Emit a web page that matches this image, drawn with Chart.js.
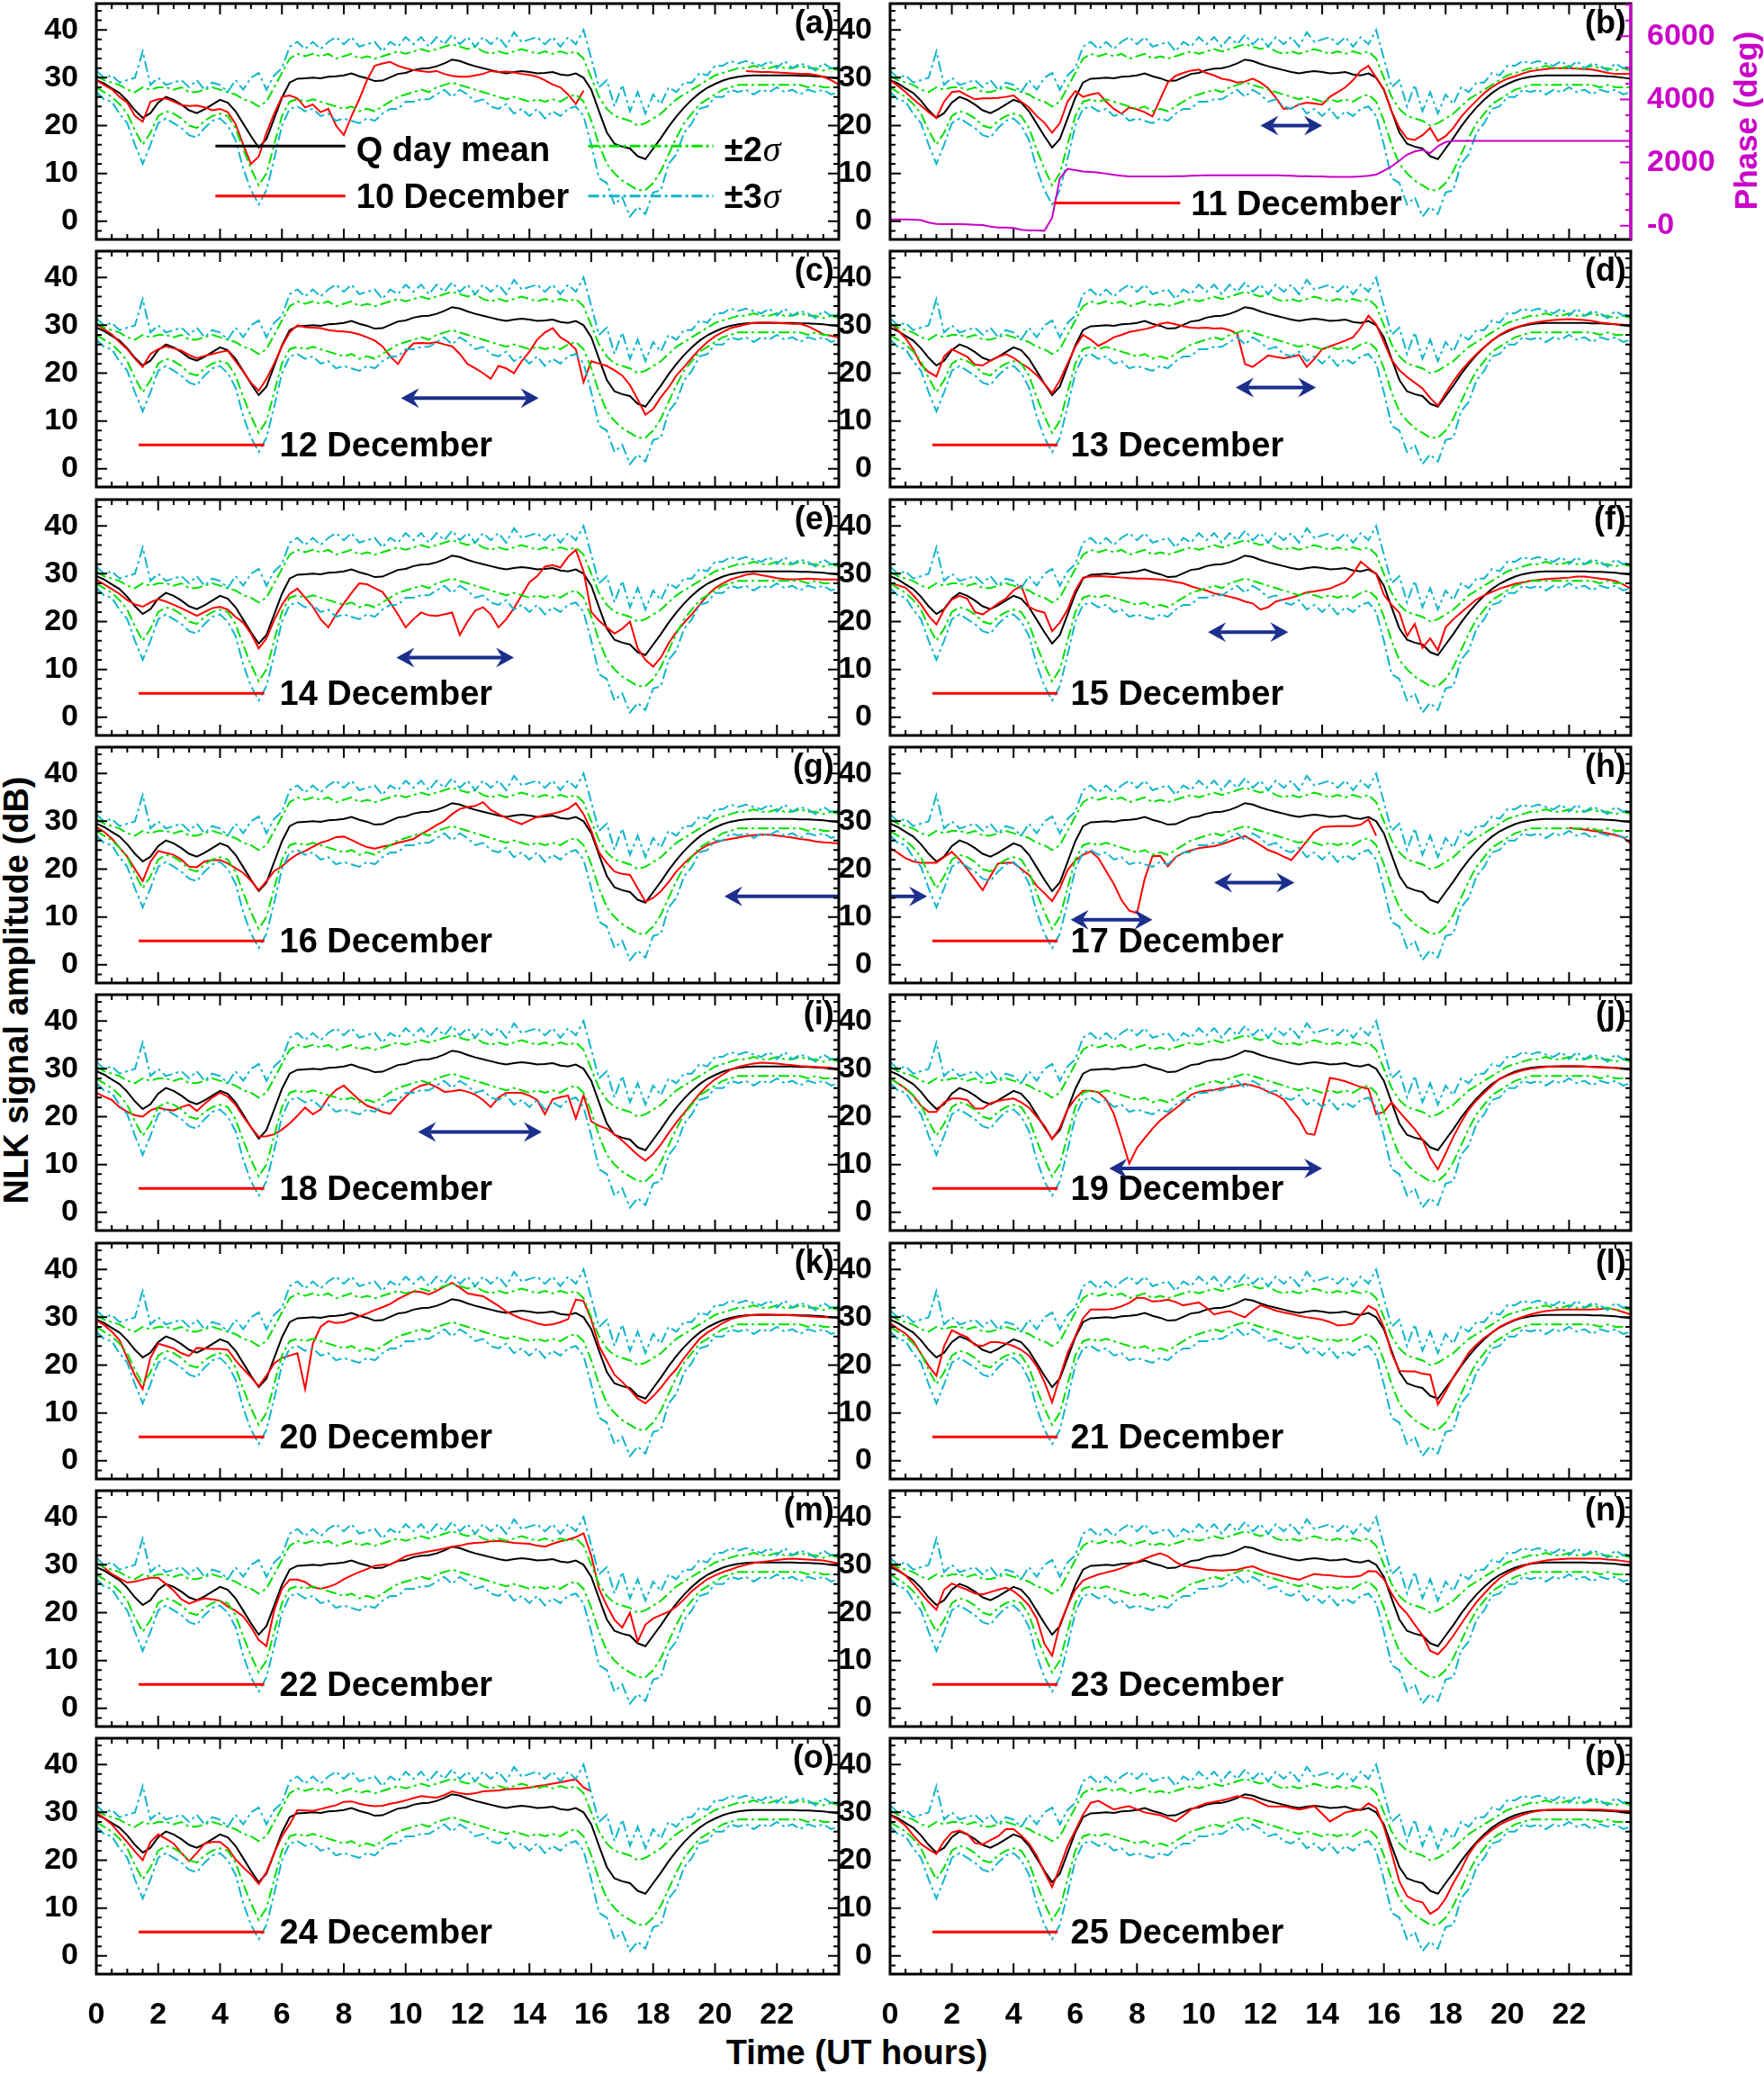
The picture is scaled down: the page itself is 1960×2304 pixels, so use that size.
<!DOCTYPE html>
<html>
<head>
<meta charset="utf-8">
<script src="https://cdn.jsdelivr.net/npm/chart.js@4.4.1/dist/chart.umd.min.js"></script>
<style>
  body { margin: 0; background: #fff; width: 1960px; height: 2304px; position: relative; overflow: hidden; }
  canvas { position: absolute; }
  .t { position: absolute; font: bold 38px "Liberation Sans", Arial, sans-serif; white-space: nowrap; color: #000; }
</style>
</head>
<body>
<div class="t" style="left:18px;top:1100px;transform:translate(-50%,-50%) rotate(-90deg)">NLK signal amplitude (dB)</div>
<div class="t" style="left:952px;top:2280px;transform:translate(-50%,-50%)">Time (UT hours)</div>
<div class="t" style="left:1940px;top:134px;color:#c800c8;font-size:35px;transform:translate(-50%,-50%) rotate(-90deg)">Phase (deg)</div>
<script>
// time grid, 15 min steps
var hours = [];
for (var k = 0; k <= 96; k++) hours.push(k / 4);

var xTicks = [0, 2, 4, 6, 8, 10, 12, 14, 16, 18, 20, 22];
var yTicks = [0, 10, 20, 30, 40];
var phaseTicks = [0, 2000, 4000, 6000];

var dayLabels = ["10 December", "11 December", "12 December", "13 December", "14 December", "15 December",
  "16 December", "17 December", "18 December", "19 December", "20 December", "21 December",
  "22 December", "23 December", "24 December", "25 December"];
var panelTags = ["(a)", "(b)", "(c)", "(d)", "(e)", "(f)", "(g)", "(h)", "(i)", "(j)", "(k)", "(l)", "(m)", "(n)", "(o)", "(p)"];

// quiet day mean and sigma bands (dB)
var qMean = [29.5, 28.8, 27.8, 26.8, 25.2, 23.2, 21.6, 22.6, 24.8, 26.0, 25.4, 24.4,
  23.2, 22.6, 23.4, 24.4, 25.4, 24.8, 23.0, 20.4, 17.8, 15.4, 17.2, 21.5,
  25.8, 29.0, 29.8, 29.9, 30.0, 29.9, 30.2, 30.3, 30.5, 30.9, 30.3, 29.9,
  29.3, 29.4, 30.1, 30.8, 31.0, 31.6, 31.9, 32.0, 32.4, 33.0, 33.8, 33.5,
  32.9, 32.4, 32.0, 31.6, 31.2, 30.9, 31.2, 31.4, 31.2, 30.9, 31.0, 31.2,
  30.7, 30.5, 30.9, 30.0, 27.5, 23.0, 18.6, 16.2, 15.6, 15.2, 13.6, 13.0,
  15.2, 17.4, 19.8, 21.9, 23.8, 25.4, 26.8, 27.9, 28.7, 29.4, 29.9, 30.2,
  30.4, 30.5, 30.5, 30.5, 30.5, 30.5, 30.5, 30.4, 30.4, 30.3, 30.2, 30.0, 29.8];
var up3 = [31.5, 30.0, 30.5, 29.0, 29.5, 30.0, 35.5, 28.5, 30.0, 28.5, 29.0, 29.5,
  28.0, 29.5, 27.5, 29.0, 28.5, 27.0, 29.5, 27.5, 30.0, 31.0, 27.5, 30.5,
  32.0, 36.5, 37.5, 36.0, 37.5, 36.0, 37.5, 38.5, 37.0, 38.5, 36.5, 37.0,
  37.5, 35.5, 37.5, 36.5, 38.5, 37.0, 38.5, 36.5, 38.5, 37.0, 39.0, 37.0,
  38.5, 36.5, 38.5, 37.0, 38.5, 36.5, 39.5, 37.5, 38.0, 38.5, 37.0, 38.5,
  36.5, 38.5, 37.0, 40.0, 34.0, 28.0, 29.5, 24.0, 28.5, 23.0, 27.0, 22.5,
  26.5, 24.5, 28.0, 27.0, 29.0, 29.0, 31.0, 30.5, 32.5, 32.5, 33.5, 33.0,
  33.5, 33.0, 32.5, 33.5, 32.0, 33.5, 32.0, 33.0, 32.5, 31.5, 33.0, 32.0, 32.5];
var up2 = [30.5, 29.5, 29.0, 28.5, 27.5, 27.0, 28.0, 27.5, 28.0, 28.0, 27.5, 28.0,
  27.0, 27.0, 27.5, 28.0, 27.5, 27.0, 26.5, 25.5, 25.0, 24.0, 25.0, 28.0,
  31.0, 34.0, 35.0, 34.5, 35.0, 34.5, 35.0, 34.0, 34.5, 35.0, 34.0, 34.5,
  34.0, 34.5, 35.0, 35.5, 35.0, 35.5, 36.0, 35.5, 36.0, 36.5, 37.0, 36.5,
  36.0, 36.5, 35.5, 35.0, 35.5, 35.0, 35.5, 36.0, 35.5, 35.0, 35.5, 35.0,
  35.5, 35.0, 35.5, 34.0, 30.0, 26.0, 23.5, 22.0, 21.5, 21.0, 20.0, 20.5,
  21.5, 22.5, 24.0, 25.5, 26.5, 27.5, 28.5, 29.5, 30.5, 31.0, 31.5, 32.0,
  32.0, 32.5, 32.0, 32.0, 32.5, 32.0, 32.0, 32.5, 32.0, 32.0, 31.5, 32.0, 31.5];
var lo2 = [28.0, 27.0, 26.0, 24.5, 22.5, 19.0, 16.0, 18.5, 22.0, 23.0, 22.5, 21.5,
  20.0, 19.5, 21.0, 22.0, 22.5, 22.0, 19.5, 15.0, 11.0, 7.5, 10.0, 16.0,
  22.0, 25.0, 25.5, 25.0, 25.5, 25.0, 24.5, 24.0, 23.5, 24.0, 23.0, 23.5,
  23.0, 24.0, 25.0, 26.0, 26.5, 27.0, 27.5, 27.0, 28.0, 28.5, 29.0, 28.5,
  28.0, 27.5, 27.0, 26.5, 26.0, 25.5, 26.0, 25.5, 25.0, 25.5, 25.0, 25.5,
  25.0, 26.0, 26.5, 25.0, 21.0, 16.0, 12.0, 10.0, 8.5, 7.5, 6.5, 6.5,
  8.0, 10.5, 14.0, 17.5, 20.5, 22.5, 24.5, 25.5, 26.5, 27.5, 28.0, 28.5,
  28.5, 28.5, 28.5, 28.5, 28.5, 28.5, 28.5, 28.5, 28.0, 28.5, 28.0, 28.0, 28.0];
var lo3 = [27.0, 25.5, 25.0, 22.5, 20.5, 16.0, 12.0, 16.0, 20.5, 21.5, 20.5, 19.5,
  18.0, 17.5, 19.5, 21.0, 21.5, 20.0, 17.0, 11.0, 6.5, 3.5, 6.5, 13.0,
  20.0, 23.5, 24.0, 23.0, 23.5, 22.0, 22.5, 21.0, 21.5, 21.0, 20.5, 21.5,
  21.0, 22.5, 23.5, 23.5, 25.0, 25.0, 25.5, 25.5, 26.5, 27.5, 26.0, 27.5,
  26.5, 25.0, 25.5, 24.0, 23.5, 24.5, 22.5, 23.5, 22.0, 23.5, 21.5, 23.0,
  22.0, 23.5, 24.0, 22.0, 16.0, 9.0, 8.0, 3.5, 5.0, 1.0, 3.0, 1.5,
  6.0, 6.5, 12.0, 14.0, 18.5, 20.5, 23.5, 24.0, 26.0, 26.0, 27.5, 27.0,
  27.5, 26.5, 27.5, 27.0, 28.0, 27.0, 27.5, 26.5, 27.5, 27.0, 27.5, 26.5, 27.0];

// daily amplitude curves (dB), null = no data
var dec10 = [29.5, 28.5, 27.6, 26.0, 24.8, 22.0, 20.8, 25.0, 25.5, 25.7, 25.0, 24.3,
  24.1, 24.2, 23.8, 23.2, 23.5, 22.8, 20.4, 16.0, 12.0, 13.5, 18.5, 22.5,
  26.0, 26.3, 25.7, 23.8, 24.4, 22.8, 23.5, 20.0, 18.0, 22.0, 25.5, 29.5,
  32.5, 33.0, 33.3, 32.5, 32.0, 31.6, 31.4, 31.2, 31.4, 30.8, 30.4, 30.2,
  30.2, 30.5, 30.8, 31.4, 31.2, 31.3, 31.1, 30.8, 30.6, 30.2, 29.5, 28.6,
  28.0, 26.5, 24.5, 27.3, null, null, null, null, null, null, null, null,
  null, null, null, null, null, null, null, null, null, null, null, null,
  31.4, 31.3, 31.2, 31.2, 31.1, 31.0, 30.9, 30.8, 30.8, 30.6, 30.2, 29.5, 28.6];
var dec11 = [29.5, 28.3, 27.0, 25.5, 24.2, 22.8, 21.6, 25.0, 27.0, 27.2, 26.3, 25.5,
  25.7, 25.7, 25.8, 26.0, 26.3, 25.0, 23.8, 22.0, 20.6, 18.5, 20.5, 25.0,
  27.2, 26.0, 26.5, 26.8, 25.0, 23.5, 22.5, 23.8, 23.4, 22.8, 21.9, 25.5,
  29.0, 30.4, 31.0, 31.5, 31.7, 31.0, 30.5, 29.8, 29.5, 29.0, 29.2, 29.8,
  29.0, 27.8, 25.8, 23.5, 23.6, 24.4, 24.8, 24.6, 24.4, 26.0, 27.0, 28.0,
  29.5, 31.5, 32.5, 30.0, 27.6, 23.0, 19.5, 17.3, 17.0, 18.0, 19.5, 16.8,
  17.8, 19.5, 21.8, 23.6, 25.2, 26.8, 28.0, 29.0, 29.8, 30.3, 30.9, 31.4,
  31.6, 31.8, 32.0, 32.0, 32.0, 31.9, 31.8, 31.7, 31.4, 31.0, 30.8, 30.8, 30.8];
var dec12 = [30.3, 29.2, 28.1, 26.5, 25.0, 23.0, 21.3, 24.0, 25.0, 25.6, 25.2, 24.7,
  23.8, 23.1, 23.6, 24.0, 24.4, 24.7, 22.5, 20.3, 18.0, 16.3, 18.8, 22.0,
  25.6, 28.5, 30.0, 29.6, 29.5, 29.4, 29.0, 28.8, 28.7, 28.5, 28.1, 27.5,
  26.8, 25.6, 23.5, 21.9, 24.5, 26.2, 26.3, 26.2, 26.5, 26.0, 25.6, 24.0,
  21.9, 21.0, 20.0, 18.8, 21.5, 21.0, 20.0, 22.5, 24.5, 27.0, 28.5, 29.4,
  27.5, 26.5, 25.0, 18.1, 22.5, 22.0, 21.5, 20.6, 19.5, 17.5, 14.5, 11.3,
  12.5, 15.0, 17.0, 19.5, 21.3, 23.2, 25.0, 26.5, 27.7, 28.6, 29.4, 29.8,
  30.2, 30.5, 30.6, 30.6, 30.5, 30.4, 30.3, 30.3, 29.8, 29.0, 28.1, 27.8, 27.5];
var dec13 = [30.6, 29.0, 27.3, 25.0, 21.8, 20.2, 19.3, 23.5, 25.0, 24.2, 23.4, 21.8,
  21.6, 22.6, 23.4, 24.0, 23.2, 22.0, 21.0, 19.6, 17.8, 15.8, 18.5, 22.0,
  25.5, 28.0, 27.0, 25.7, 26.5, 27.5, 28.0, 28.6, 28.9, 29.2, 29.6, 30.3,
  30.6, 30.2, 29.8, 29.5, 29.4, 29.5, 29.3, 29.4, 29.0, 28.2, 21.9, 21.3,
  22.5, 23.7, 23.4, 23.1, 23.4, 23.8, 21.3, 23.0, 25.0, 25.6, 26.2, 26.8,
  27.5, 29.5, 32.0, 30.2, 26.5, 22.8, 20.6, 19.2, 18.0, 16.8, 14.8, 13.2,
  15.8, 18.3, 20.5, 22.3, 24.0, 25.4, 26.8, 28.0, 28.9, 29.5, 30.0, 30.4,
  30.7, 30.9, 31.1, 31.2, 31.3, 31.2, 31.1, 30.9, 30.6, 30.4, 30.2, 30.1, 30.0];
var dec14 = [28.8, 27.8, 26.8, 25.8, 24.5, 23.6, 23.1, 24.0, 24.7, 24.2, 23.5, 22.8,
  22.0, 21.2, 22.0, 22.8, 23.1, 22.5, 21.0, 19.8, 17.5, 14.4, 16.5, 20.3,
  23.5, 25.8, 26.9, 25.0, 23.1, 20.5, 18.8, 21.5, 23.8, 26.0, 28.0, 27.8,
  27.0, 26.2, 24.0, 21.5, 18.8, 20.5, 21.9, 21.3, 21.2, 21.5, 21.9, 17.2,
  20.0, 22.3, 23.0, 21.5, 18.8, 20.5, 22.8, 25.5, 28.2, 29.5, 31.5, 31.8,
  31.3, 33.5, 35.0, 30.5, 22.0, 20.2, 18.8, 17.5, 18.5, 20.0, 14.4, 12.0,
  10.6, 12.5, 15.5, 17.8, 19.8, 21.5, 23.5, 25.5, 27.0, 28.0, 28.8, 29.3,
  29.8, 30.0, 29.7, 29.4, 29.1, 28.9, 28.8, 28.9, 29.0, 28.9, 28.8, 28.8, 28.8];
var dec15 = [28.1, 27.6, 27.1, 25.5, 23.6, 21.2, 19.4, 22.5, 24.6, 25.4, 24.8, 22.0,
  21.5, 22.6, 23.8, 24.8, 26.5, 27.5, 23.1, 22.3, 21.9, 18.0, 19.8, 22.5,
  26.5, 29.2, 29.4, 29.5, 29.4, 29.3, 29.2, 29.1, 29.0, 29.0, 28.9, 28.8,
  28.6, 28.3, 28.0, 27.4, 26.9, 26.5, 25.9, 25.6, 25.2, 24.8, 24.2, 23.8,
  22.5, 23.0, 24.2, 24.6, 25.0, 25.5, 26.1, 26.3, 26.6, 26.9, 27.6, 28.3,
  30.0, 32.5, 31.2, 30.0, 25.6, 23.5, 21.9, 17.0, 19.5, 14.5, 16.5, 14.0,
  18.8, 20.5, 21.9, 23.3, 24.6, 25.5, 26.2, 26.9, 27.4, 27.9, 28.2, 28.5,
  28.7, 28.9, 29.0, 29.1, 29.2, 29.4, 29.4, 29.2, 29.0, 28.8, 28.5, 27.8, 26.9];
var dec16 = [28.8, 27.8, 26.4, 24.5, 22.6, 20.0, 17.5, 21.5, 23.8, 23.4, 23.0, 22.0,
  20.5, 20.4, 21.6, 21.9, 21.9, 21.2, 20.2, 19.2, 17.6, 15.6, 17.5, 19.6,
  20.6, 22.0, 23.1, 23.8, 24.7, 25.5, 26.0, 26.7, 26.8, 26.1, 25.3, 24.6,
  24.3, 24.7, 25.0, 25.5, 25.9, 26.3, 27.3, 28.2, 29.2, 30.1, 31.5, 32.6,
  33.0, 33.2, 34.0, 32.4, 31.5, 30.7, 30.0, 29.4, 30.2, 30.9, 31.3, 31.6,
  32.0, 32.6, 33.8, 31.5, 28.0, 23.5, 21.3, 19.5, 19.0, 18.8, 16.0, 13.2,
  14.0, 15.4, 17.3, 19.5, 21.2, 22.7, 24.0, 25.0, 25.6, 26.0, 26.3, 26.6,
  26.9, 27.1, 27.2, 27.2, 27.0, 26.8, 26.6, 26.3, 26.1, 25.8, 25.6, 25.5, 25.3];
var dec17 = [24.4, 23.4, 22.3, 21.6, 21.3, 21.3, 21.3, 22.5, 23.6, 22.0, 20.0, 17.8,
  15.6, 18.5, 21.2, 21.3, 21.3, 20.0, 18.8, 16.5, 15.0, 13.3, 16.0, 19.8,
  21.8, 23.0, 23.7, 22.3, 19.6, 16.9, 13.5, 11.3, 10.8, 18.0, 22.7, 22.8,
  20.6, 22.5, 23.4, 23.9, 24.4, 24.6, 24.8, 25.2, 25.8, 26.4, 26.9, 26.0,
  25.0, 24.0, 23.4, 22.6, 21.9, 23.8, 25.8, 27.8, 28.8, 28.9, 29.0, 29.0,
  29.0, 29.3, 30.4, 27.0, null, null, null, null, null, null, null, null,
  null, null, null, null, null, null, null, null, null, null, null, null,
  null, null, null, null, 28.6, 28.4, 28.3, 28.0, 27.8, 27.5, 27.1, 26.7, 25.3];
var dec18 = [25.0, 24.2, 23.5, 22.0, 21.0, 20.3, 20.0, 21.3, 21.9, 21.5, 21.3, 22.0,
  22.5, 21.2, 22.7, 24.0, 25.0, 24.2, 22.5, 20.0, 17.8, 15.8, 15.9, 16.3,
  17.3, 18.6, 20.2, 21.9, 20.5, 21.5, 24.0, 25.6, 26.5, 25.0, 23.5, 22.3,
  21.7, 21.0, 20.6, 22.5, 24.2, 25.7, 26.5, 26.9, 26.2, 25.2, 25.3, 25.6,
  25.2, 24.6, 23.5, 22.0, 24.0, 25.0, 25.0, 25.0, 24.4, 23.5, 20.5, 23.6,
  24.1, 24.4, 19.6, 24.5, 19.0, 18.1, 17.5, 16.3, 15.0, 13.5, 12.0, 10.8,
  12.2, 14.2, 16.6, 18.8, 20.8, 22.8, 24.8, 26.5, 27.8, 28.8, 29.8, 30.4,
  30.8, 31.1, 31.3, 31.2, 31.1, 30.9, 30.8, 30.6, 30.5, 30.4, 30.3, 30.2, 30.0];
var dec19 = [28.1, 27.0, 25.9, 24.4, 22.3, 21.0, 21.0, 23.0, 23.8, 23.8, 23.5, 21.7,
  21.7, 22.8, 23.3, 23.6, 23.8, 23.0, 21.9, 20.0, 18.1, 15.3, 17.7, 21.5,
  23.8, 25.4, 25.4, 25.1, 23.6, 20.6, 15.5, 10.2, 13.5, 15.5, 17.5, 19.2,
  20.5, 21.7, 23.0, 24.6, 25.2, 25.4, 25.6, 26.0, 26.2, 26.5, 26.8, 26.5,
  26.0, 25.2, 24.6, 23.6, 21.5, 19.5, 16.5, 16.2, 22.0, 28.1, 27.8, 27.4,
  26.8, 26.2, 25.8, 20.5, 21.0, 23.0, 21.0, 19.2, 17.4, 15.2, 11.5, 9.0,
  12.3, 15.8, 18.8, 21.5, 23.4, 25.0, 26.5, 27.9, 28.6, 29.2, 29.7, 30.0,
  30.2, 30.4, 30.5, 30.6, 30.6, 30.6, 30.5, 30.4, 30.3, 30.2, 30.2, 30.1, 30.0];
var dec20 = [29.4, 28.4, 27.0, 25.2, 21.5, 17.8, 15.0, 21.5, 24.5, 24.0, 23.5, 22.5,
  21.9, 23.6, 23.5, 23.4, 23.4, 23.2, 21.0, 19.2, 17.5, 15.6, 17.8, 20.4,
  21.5, 22.0, 22.5, 15.0, 24.5, 28.0, 29.2, 28.8, 29.0, 29.6, 30.2, 30.8,
  31.5, 32.1, 32.8, 33.8, 34.6, 35.4, 35.3, 34.8, 35.5, 36.4, 37.2, 36.2,
  35.0, 34.7, 34.4, 33.4, 32.4, 31.2, 30.4, 29.7, 29.3, 28.7, 28.4, 28.5,
  29.0, 29.6, 33.7, 33.4, 29.5, 24.0, 21.0, 18.0, 16.5, 14.8, 13.0, 12.0,
  13.5, 15.3, 17.4, 19.2, 21.5, 23.5, 25.5, 26.8, 27.8, 28.8, 29.6, 30.0,
  30.3, 30.5, 30.6, 30.6, 30.5, 30.5, 30.4, 30.3, 30.2, 30.1, 30.0, 30.0, 30.0];
var dec21 = [28.8, 27.6, 26.6, 25.0, 22.4, 19.8, 17.8, 24.0, 27.3, 26.5, 25.8, 24.2,
  24.0, 24.8, 24.8, 24.5, 24.0, 23.2, 22.0, 19.8, 16.5, 12.2, 17.5, 22.5,
  26.0, 29.8, 31.6, 31.6, 31.6, 31.8, 32.3, 33.0, 34.1, 34.0, 33.3, 33.4,
  33.7, 33.2, 32.5, 32.8, 33.1, 32.0, 30.6, 31.0, 31.3, 30.6, 30.0, 31.4,
  32.5, 32.0, 31.4, 31.0, 30.7, 30.3, 30.0, 29.8, 29.5, 29.0, 28.3, 28.4,
  28.7, 30.5, 32.4, 31.5, 28.0, 22.5, 18.8, 18.7, 18.7, 18.2, 18.0, 11.8,
  14.5, 17.5, 20.0, 22.6, 24.3, 25.7, 26.8, 28.0, 28.8, 29.5, 30.1, 30.6,
  31.0, 31.3, 31.5, 31.6, 31.6, 31.6, 31.6, 31.6, 31.7, 31.9, 31.6, 31.1, 30.6];
var dec22 = [30.6, 29.4, 28.1, 27.2, 26.3, 26.5, 26.9, 27.3, 27.3, 26.0, 24.6, 22.8,
  21.9, 22.5, 23.0, 22.8, 22.5, 21.3, 20.4, 19.2, 17.0, 14.3, 13.0, 20.5,
  25.0, 26.9, 26.9, 26.4, 25.3, 25.0, 25.4, 26.0, 27.0, 27.8, 28.5, 29.1,
  29.8, 30.0, 30.0, 30.9, 31.8, 32.2, 32.5, 32.8, 33.1, 33.4, 33.8, 34.0,
  34.4, 34.6, 34.7, 34.9, 35.0, 34.8, 34.6, 34.5, 34.4, 34.0, 33.8, 34.4,
  34.9, 35.3, 35.8, 36.6, 31.9, 25.0, 21.5, 18.5, 16.9, 20.0, 14.0, 17.5,
  18.8, 19.5, 20.2, 21.3, 22.8, 24.5, 25.8, 27.0, 27.8, 28.5, 29.0, 29.6,
  30.0, 30.4, 30.6, 30.8, 31.0, 31.2, 31.3, 31.2, 31.1, 31.0, 30.9, 30.6, 30.3];
var dec23 = [30.0, 29.0, 27.8, 26.0, 24.1, 22.2, 20.6, 24.8, 26.1, 25.4, 24.8, 24.0,
  23.8, 24.3, 24.8, 25.2, 24.5, 23.2, 21.5, 18.8, 13.5, 11.0, 17.5, 21.5,
  24.8, 26.7, 27.4, 28.0, 28.4, 28.8, 29.3, 30.0, 30.6, 31.3, 31.9, 32.4,
  31.8, 30.6, 29.8, 29.5, 29.3, 29.0, 28.9, 28.8, 28.9, 29.0, 29.4, 29.7,
  29.0, 28.4, 28.0, 27.6, 27.2, 26.9, 27.5, 28.1, 27.9, 27.8, 27.6, 27.5,
  27.5, 27.7, 28.7, 28.6, 27.0, 24.0, 21.5, 19.8, 17.5, 15.3, 12.0, 11.3,
  13.0, 15.2, 17.6, 20.0, 22.2, 24.0, 25.7, 27.2, 28.2, 29.0, 29.7, 30.3,
  30.6, 30.9, 31.1, 31.2, 31.3, 31.3, 31.3, 31.3, 31.3, 31.1, 31.0, 30.8, 30.6];
var dec24 = [30.0, 28.8, 27.5, 25.6, 23.8, 21.8, 20.0, 23.8, 25.4, 24.5, 23.5, 21.5,
  19.8, 21.5, 23.5, 23.8, 23.8, 22.5, 20.2, 18.5, 17.0, 15.0, 17.5, 21.5,
  25.0, 27.5, 30.5, 30.4, 30.3, 30.7, 31.1, 31.5, 32.2, 32.3, 31.8, 31.5,
  31.3, 31.4, 31.8, 32.1, 32.5, 33.0, 33.4, 33.2, 33.1, 33.6, 34.4, 34.0,
  33.8, 34.0, 34.4, 34.5, 34.6, 34.8, 34.9, 35.0, 35.2, 35.5, 35.7, 36.0,
  36.3, 36.6, 36.9, 35.2, 34.4, null, null, null, null, null, null, null,
  null, null, null, null, null, null, null, null, null, null, null, null,
  null, null, null, null, null, null, null, null, null, null, null, null, null];
var dec25 = [29.4, 28.5, 27.2, 25.2, 23.4, 22.3, 21.3, 24.0, 25.8, 26.2, 25.5, 23.6,
  23.3, 24.2, 25.0, 26.5, 26.5, 25.2, 23.5, 21.0, 17.5, 14.4, 18.5, 23.0,
  26.2, 29.5, 32.0, 32.4, 31.5, 30.6, 31.0, 31.3, 30.6, 30.0, 29.7, 29.4,
  28.8, 28.1, 29.3, 30.6, 31.3, 31.9, 32.2, 32.5, 32.9, 33.4, 33.1, 32.8,
  32.0, 31.3, 31.2, 31.3, 30.9, 30.6, 30.9, 31.3, 29.7, 28.1, 29.0, 30.0,
  30.3, 30.6, 31.9, 30.9, 27.0, 21.5, 15.6, 12.5, 11.6, 11.2, 8.8, 9.8,
  12.0, 15.2, 18.0, 21.3, 23.5, 25.0, 26.3, 27.4, 28.2, 28.9, 29.5, 30.0,
  30.3, 30.5, 30.6, 30.6, 30.6, 30.6, 30.6, 30.6, 30.6, 30.5, 30.4, 30.3, 30.3];

// 11 December phase (deg)
var phase11 = [200, 200, 200, 190, 180, 100, 60, 50, 50, 50, 40, 30,
  20, -30, -60, -60, -70, -130, -150, -150, -160, 250, 1500, 1800,
  1760, 1720, 1700, 1680, 1650, 1610, 1580, 1560, 1560, 1560, 1560, 1560,
  1560, 1570, 1570, 1580, 1590, 1600, 1600, 1600, 1600, 1600, 1600, 1600,
  1600, 1600, 1600, 1590, 1580, 1570, 1570, 1560, 1560, 1550, 1550, 1550,
  1550, 1560, 1580, 1620, 1740, 1880, 2060, 2250, 2350, 2400, 2300, 2520,
  2650, 2690, 2690, 2690, 2690, 2690, 2690, 2690, 2690, 2690, 2690, 2690,
  2690, 2690, 2690, 2690, 2690, 2690, 2690, 2690, 2690, 2690, 2690, 2690, 2690];

var redSeries = [dec10, dec11, dec12, dec13, dec14, dec15, dec16, dec17,
  dec18, dec19, dec20, dec21, dec22, dec23, dec24, dec25];

// disturbance arrows: panel, start hour, end hour, level (dB), heads
var arrows = [
  { panel: 1, from: 12.0, to: 14.0, level: 20.0, heads: "both" },
  { panel: 2, from: 9.85, to: 14.3, level: 14.8, heads: "both" },
  { panel: 3, from: 11.2, to: 13.8, level: 17.0, heads: "both" },
  { panel: 4, from: 9.7, to: 13.5, level: 12.5, heads: "both" },
  { panel: 5, from: 10.3, to: 12.9, level: 17.8, heads: "both" },
  { panel: 6, from: 20.3, to: 24.0, level: 14.3, heads: "left" },
  { panel: 7, from: 0.0, to: 1.2, level: 14.3, heads: "right" },
  { panel: 7, from: 5.85, to: 8.5, level: 9.4, heads: "both" },
  { panel: 7, from: 10.5, to: 13.1, level: 17.2, heads: "both" },
  { panel: 8, from: 10.4, to: 14.4, level: 16.8, heads: "both" },
  { panel: 9, from: 7.1, to: 14.0, level: 9.2, heads: "both" }
];

var FONT = '"Liberation Sans", Arial, sans-serif';
var BLACK = "#000000", RED = "#ff0000", GREEN = "#00e000", CYAN = "#10b6cc", MAGENTA = "#c800c8", NAVY = "#1c2f8c";
var DASH = [12, 4, 3, 4];

var PLOT_LEFT = [107, 989], PLOT_W = [825, 823];
var TOP0 = 4, PITCH = 275.3, PLOT_H = 262;
var LM = 70, RM = 10, TM = 8, BM = 8, BM_LAST = 72, RM_PHASE = 148;

function pts(vals) {
  return vals.map(function (v, j) { return { x: hours[j], y: v }; });
}

function line(data, color, dash, axis) {
  return {
    data: pts(data), borderColor: color, borderWidth: 2, borderDash: dash || [],
    pointRadius: 0, tension: 0, fill: false, spanGaps: false, yAxisID: axis || "y"
  };
}

function makePanel(i) {
  var col = i % 2, row = Math.floor(i / 2);
  var last = row === 7, isB = i === 1;
  var rm = isB ? RM_PHASE : RM;
  var w = LM + PLOT_W[col] + rm;
  var h = TM + PLOT_H + (last ? BM_LAST : BM);

  var cv = document.createElement("canvas");
  cv.width = w; cv.height = h;
  cv.style.width = w + "px"; cv.style.height = h + "px";
  cv.style.left = (PLOT_LEFT[col] - LM) + "px";
  cv.style.top = Math.round(TOP0 + row * PITCH - TM) + "px";
  document.body.appendChild(cv);

  var datasets = [];
  if (isB) datasets.push(line(phase11, MAGENTA, null, "y2"));
  datasets.push(line(up3, CYAN, DASH), line(lo3, CYAN, DASH),
    line(up2, GREEN, DASH), line(lo2, GREEN, DASH),
    line(redSeries[i], RED), line(qMean, BLACK));

  var tickFont = { family: FONT, size: 34, weight: "bold" };
  var scales = {
    x: {
      type: "linear", min: 0, max: 24,
      grid: { display: false }, border: { display: false },
      ticks: { display: last, font: tickFont, color: "#000", padding: 17, maxRotation: 0, autoSkip: false },
      afterBuildTicks: function (s) { s.ticks = xTicks.map(function (v) { return { value: v }; }); },
      afterFit: function (s) { s.height = last ? BM_LAST : 0; s.paddingLeft = 0; s.paddingRight = 0; }
    },
    y: {
      type: "linear", position: "left", min: -3.8, max: 45.5,
      grid: { display: false }, border: { display: false },
      ticks: { font: tickFont, color: "#000", padding: 12 },
      afterBuildTicks: function (s) { s.ticks = yTicks.map(function (v) { return { value: v }; }); },
      afterFit: function (s) { s.width = LM; s.paddingTop = 0; s.paddingBottom = 0; }
    }
  };
  if (isB) {
    scales.y2 = {
      type: "linear", position: "right", min: -435, max: 7035,
      grid: { display: false }, border: { display: false },
      ticks: { font: tickFont, color: MAGENTA, padding: 10, callback: function (v) { return v === 0 ? "-0" : String(v); } },
      afterBuildTicks: function (s) { s.ticks = phaseTicks.map(function (v) { return { value: v }; }); },
      afterFit: function (s) { s.width = RM_PHASE; s.paddingTop = 0; s.paddingBottom = 0; }
    };
  }

  var deco = {
    id: "deco" + i,
    afterDatasetsDraw: function (chart) {
      var ctx = chart.ctx, xs = chart.scales.x, ys = chart.scales.y;
      ctx.save();
      function key(h1, h2, v, color, dash) {
        ctx.beginPath();
        ctx.setLineDash(dash || []);
        ctx.strokeStyle = color; ctx.lineWidth = 3;
        ctx.moveTo(xs.getPixelForValue(h1), ys.getPixelForValue(v));
        ctx.lineTo(xs.getPixelForValue(h2), ys.getPixelForValue(v));
        ctx.stroke();
        ctx.setLineDash([]);
      }
      function label(text, hh, v) {
        ctx.font = "bold 38px " + FONT;
        ctx.fillStyle = "#000"; ctx.textAlign = "left"; ctx.textBaseline = "middle";
        ctx.fillText(text, xs.getPixelForValue(hh), ys.getPixelForValue(v));
      }
      function sigma(prefix, hh, v) {
        var px = xs.getPixelForValue(hh), py = ys.getPixelForValue(v);
        ctx.font = "bold 38px " + FONT;
        ctx.fillStyle = "#000"; ctx.textAlign = "left"; ctx.textBaseline = "middle";
        ctx.fillText(prefix, px, py);
        var wd = ctx.measureText(prefix).width;
        ctx.font = 'italic 40px "Liberation Serif", "DejaVu Serif", serif';
        ctx.fillText("\u03c3", px + wd + 1, py);
      }
      if (i === 0) {
        key(3.85, 8.05, 15.7, BLACK); label("Q day mean", 8.4, 14.6);
        key(3.85, 8.05, 5.3, RED); label(dayLabels[0], 8.4, 4.8);
        key(15.9, 19.95, 15.7, GREEN, DASH); sigma("\u00b12", 20.3, 14.6);
        key(15.9, 19.95, 5.3, CYAN, DASH); sigma("\u00b13", 20.3, 4.8);
      } else if (i === 1) {
        key(5.3, 9.4, 3.8, RED); label(dayLabels[1], 9.75, 3.2);
      } else {
        key(1.37, 5.43, 5.0, RED); label(dayLabels[i], col ? 5.85 : 5.92, 4.5);
      }

      arrows.forEach(function (a) {
        if (a.panel !== i) return;
        var x1 = xs.getPixelForValue(a.from), x2 = xs.getPixelForValue(a.to), y = ys.getPixelForValue(a.level);
        var hl = 20, hw = 11, notch = 13;
        var l = a.heads !== "right", r = a.heads !== "left";
        ctx.strokeStyle = NAVY; ctx.fillStyle = NAVY; ctx.lineWidth = 4;
        ctx.beginPath();
        ctx.moveTo(x1 + (l ? notch : 0), y); ctx.lineTo(x2 - (r ? notch : 0), y);
        ctx.stroke();
        if (l) {
          ctx.beginPath();
          ctx.moveTo(x1, y); ctx.lineTo(x1 + hl, y - hw); ctx.lineTo(x1 + notch, y); ctx.lineTo(x1 + hl, y + hw);
          ctx.closePath(); ctx.fill();
        }
        if (r) {
          ctx.beginPath();
          ctx.moveTo(x2, y); ctx.lineTo(x2 - hl, y - hw); ctx.lineTo(x2 - notch, y); ctx.lineTo(x2 - hl, y + hw);
          ctx.closePath(); ctx.fill();
        }
      });

      ctx.font = "bold 36px " + FONT;
      ctx.fillStyle = "#000"; ctx.textAlign = "right"; ctx.textBaseline = "middle";
      ctx.fillText(panelTags[i], xs.getPixelForValue(23.85), ys.getPixelForValue(41.2));
      ctx.restore();
    },
    afterDraw: function (chart) {
      var ctx = chart.ctx, a = chart.chartArea, xs = chart.scales.x, ys = chart.scales.y;
      ctx.save();
      ctx.lineWidth = 2; ctx.strokeStyle = "#000";
      ctx.beginPath();
      for (var t = 0; t <= 24; t += 0.5) {
        var px = xs.getPixelForValue(t), len = (t % 2 === 0) ? 12 : 6;
        ctx.moveTo(px, a.bottom); ctx.lineTo(px, a.bottom - len);
        ctx.moveTo(px, a.top); ctx.lineTo(px, a.top + len);
      }
      for (var v = -2; v <= 44; v += 2) {
        var py = ys.getPixelForValue(v), ln = (v % 10 === 0) ? 12 : 6;
        ctx.moveTo(a.left, py); ctx.lineTo(a.left + ln, py);
        if (!isB) { ctx.moveTo(a.right, py); ctx.lineTo(a.right - ln, py); }
      }
      ctx.stroke();
      ctx.lineWidth = 3;
      ctx.strokeRect(a.left, a.top, a.right - a.left, a.bottom - a.top);
      if (isB) {
        var ps = chart.scales.y2;
        ctx.strokeStyle = MAGENTA; ctx.lineWidth = 2;
        ctx.beginPath();
        for (var p = 0; p <= 7000; p += 500) {
          var yy = ps.getPixelForValue(p), pl = (p % 2000 === 0) ? 12 : 6;
          ctx.moveTo(a.right, yy); ctx.lineTo(a.right - pl, yy);
        }
        ctx.stroke();
        ctx.lineWidth = 3;
        ctx.beginPath(); ctx.moveTo(a.right, a.top); ctx.lineTo(a.right, a.bottom); ctx.stroke();
      }
      ctx.restore();
    }
  };

  new Chart(cv, {
    type: "line",
    data: { datasets: datasets },
    plugins: [deco],
    options: {
      responsive: false,
      animation: false,
      devicePixelRatio: 1,
      events: [],
      layout: { autoPadding: false, padding: { left: 0, top: TM, right: isB ? 0 : RM, bottom: last ? 0 : BM } },
      plugins: { legend: { display: false }, tooltip: { enabled: false } },
      scales: scales
    }
  });
}

for (var i = 0; i < 16; i++) makePanel(i);
</script>
</body>
</html>
